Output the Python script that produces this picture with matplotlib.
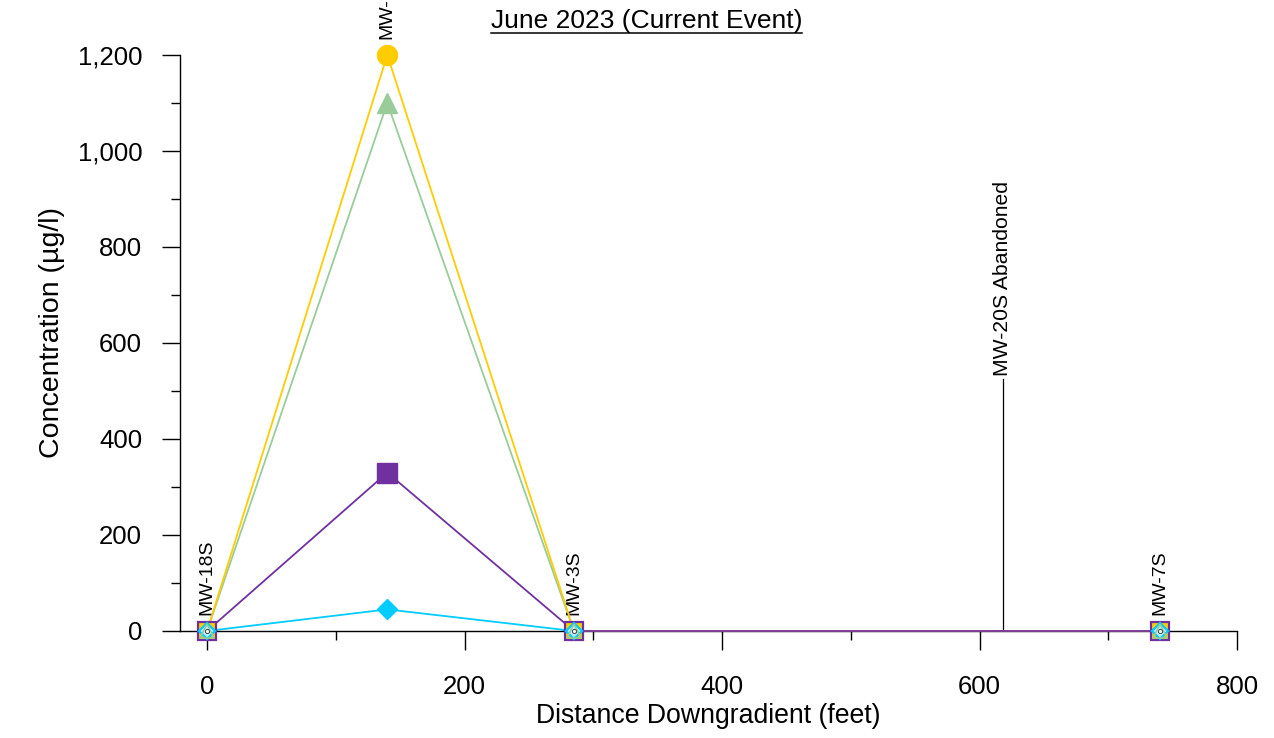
import matplotlib
matplotlib.use("Agg")
import matplotlib.pyplot as plt
from matplotlib.ticker import MultipleLocator, StrMethodFormatter
from matplotlib.lines import Line2D

plt.rcParams["font.family"] = ["Liberation Sans", "DejaVu Sans"]

# Well locations along the flow path (feet downgradient) and their names
distance = [0, 140, 285, 740]
wells = ["MW-18S", "MW-19S", "MW-3S", "MW-7S"]

# Concentrations (ug/l) for each constituent at each well
conc_yellow = [0, 1200, 0, 0]
conc_green = [0, 1100, 0, 0]
conc_purple = [0, 330, 0, 0]
conc_cyan = [0, 45, 0, 0]

# Abandoned well marker
abandoned_label = "MW-20S Abandoned"
abandoned_distance = 618
abandoned_height = 525

title = "June 2023 (Current Event)"

YELLOW = "#FFCC00"
GREEN = "#99CC99"
PURPLE = "#7030A0"
CYAN = "#00CCFF"

fig = plt.figure(figsize=(12.74, 7.38), dpi=100)
ax = fig.add_axes([180 / 1274, 107 / 738, 1057 / 1274, 576 / 738])

series = [
    (conc_cyan, CYAN, "D", 10.2, 2),
    (conc_green, GREEN, "^", 14.4, 3),
    (conc_yellow, YELLOW, "o", 14.4, 4),
    (conc_purple, PURPLE, "s", 14.4, 5),
]

for values, color, marker, ms, z in series:
    ax.plot(distance, values, color=color, lw=1.3, zorder=z, clip_on=False)
    det_x = [d for d, v in zip(distance, values) if v > 0]
    det_y = [v for v in values if v > 0]
    ax.plot(det_x, det_y, ls="none", marker=marker, ms=ms, color=color,
            mec=color, zorder=10, clip_on=False)

# Non-detect symbol where every constituent is zero
nd_x = [d for i, d in enumerate(distance)
        if all(s[0][i] == 0 for s in series)]
nd_y = [0] * len(nd_x)
ax.plot(nd_x, nd_y, ls="none", marker="s", ms=13.2, mfc=YELLOW, mec=PURPLE,
        mew=1.6, zorder=11, clip_on=False)
ax.plot(nd_x, nd_y, ls="none", marker="D", ms=8.6, mfc="#BFEFFF", mec=CYAN,
        mew=1.6, zorder=12, clip_on=False)
ax.plot(nd_x, nd_y, ls="none", marker="^", ms=10, mfc="none", mec=GREEN,
        mew=1.2, zorder=13, clip_on=False)
ax.plot(nd_x, nd_y, ls="none", marker="o", ms=3, mfc="white", mec="#555555",
        mew=0.8, zorder=14, clip_on=False)

# Well labels above the highest value at each well
for i, (d, name) in enumerate(zip(distance, wells)):
    top = max(s[0][i] for s in series)
    ax.annotate(name, (d, top), xytext=(0, 11.5), textcoords="offset points",
                rotation=90, ha="center", va="bottom", fontsize=14,
                annotation_clip=False)

# Abandoned well
ax.plot([abandoned_distance, abandoned_distance], [0, abandoned_height],
        color="black", lw=0.9, zorder=1)
ax.annotate(abandoned_label, (abandoned_distance, abandoned_height),
            xytext=(0, 2), textcoords="offset points", rotation=90,
            ha="center", va="bottom", fontsize=15.2)

ax.set_xlim(-21, 800)
ax.set_ylim(0, 1200)
for side in ("top", "right"):
    ax.spines[side].set_visible(False)
for side in ("left", "bottom"):
    ax.spines[side].set_linewidth(1.0)

ax.xaxis.set_major_locator(MultipleLocator(200))
ax.xaxis.set_minor_locator(MultipleLocator(100))
ax.yaxis.set_major_locator(MultipleLocator(200))
ax.yaxis.set_minor_locator(MultipleLocator(100))
ax.yaxis.set_major_formatter(StrMethodFormatter("{x:,.0f}"))

ax.tick_params(axis="x", which="major", direction="out", length=13.7,
               width=1.0, pad=18, labelsize=18.5)
ax.tick_params(axis="x", which="minor", direction="out", length=6.5, width=1.0)
ax.tick_params(axis="y", which="major", direction="out", length=13.2,
               width=1.0, pad=14, labelsize=18.5)
ax.tick_params(axis="y", which="minor", direction="out", length=6.5, width=1.0)

fig.text(52 / 1274, 1 - 333 / 738, "Concentration (\u00b5g/l)", rotation=90,
         ha="center", va="center", fontsize=20.5)
fig.text(708 / 1274, 1 - 716 / 738, "Distance Downgradient (feet)",
         ha="center", va="center", fontsize=19.2)

ttl = fig.text(646.5 / 1274, 1 - 28 / 738, title, ha="center",
               va="baseline", fontsize=19)
fig.canvas.draw()
bb = ttl.get_window_extent().transformed(fig.transFigure.inverted())
uy = 1 - 32.5 / 738
fig.add_artist(Line2D([bb.x0, bb.x1], [uy, uy], transform=fig.transFigure,
                      color="black", lw=1.1))

fig.savefig("out.png", dpi=100)
